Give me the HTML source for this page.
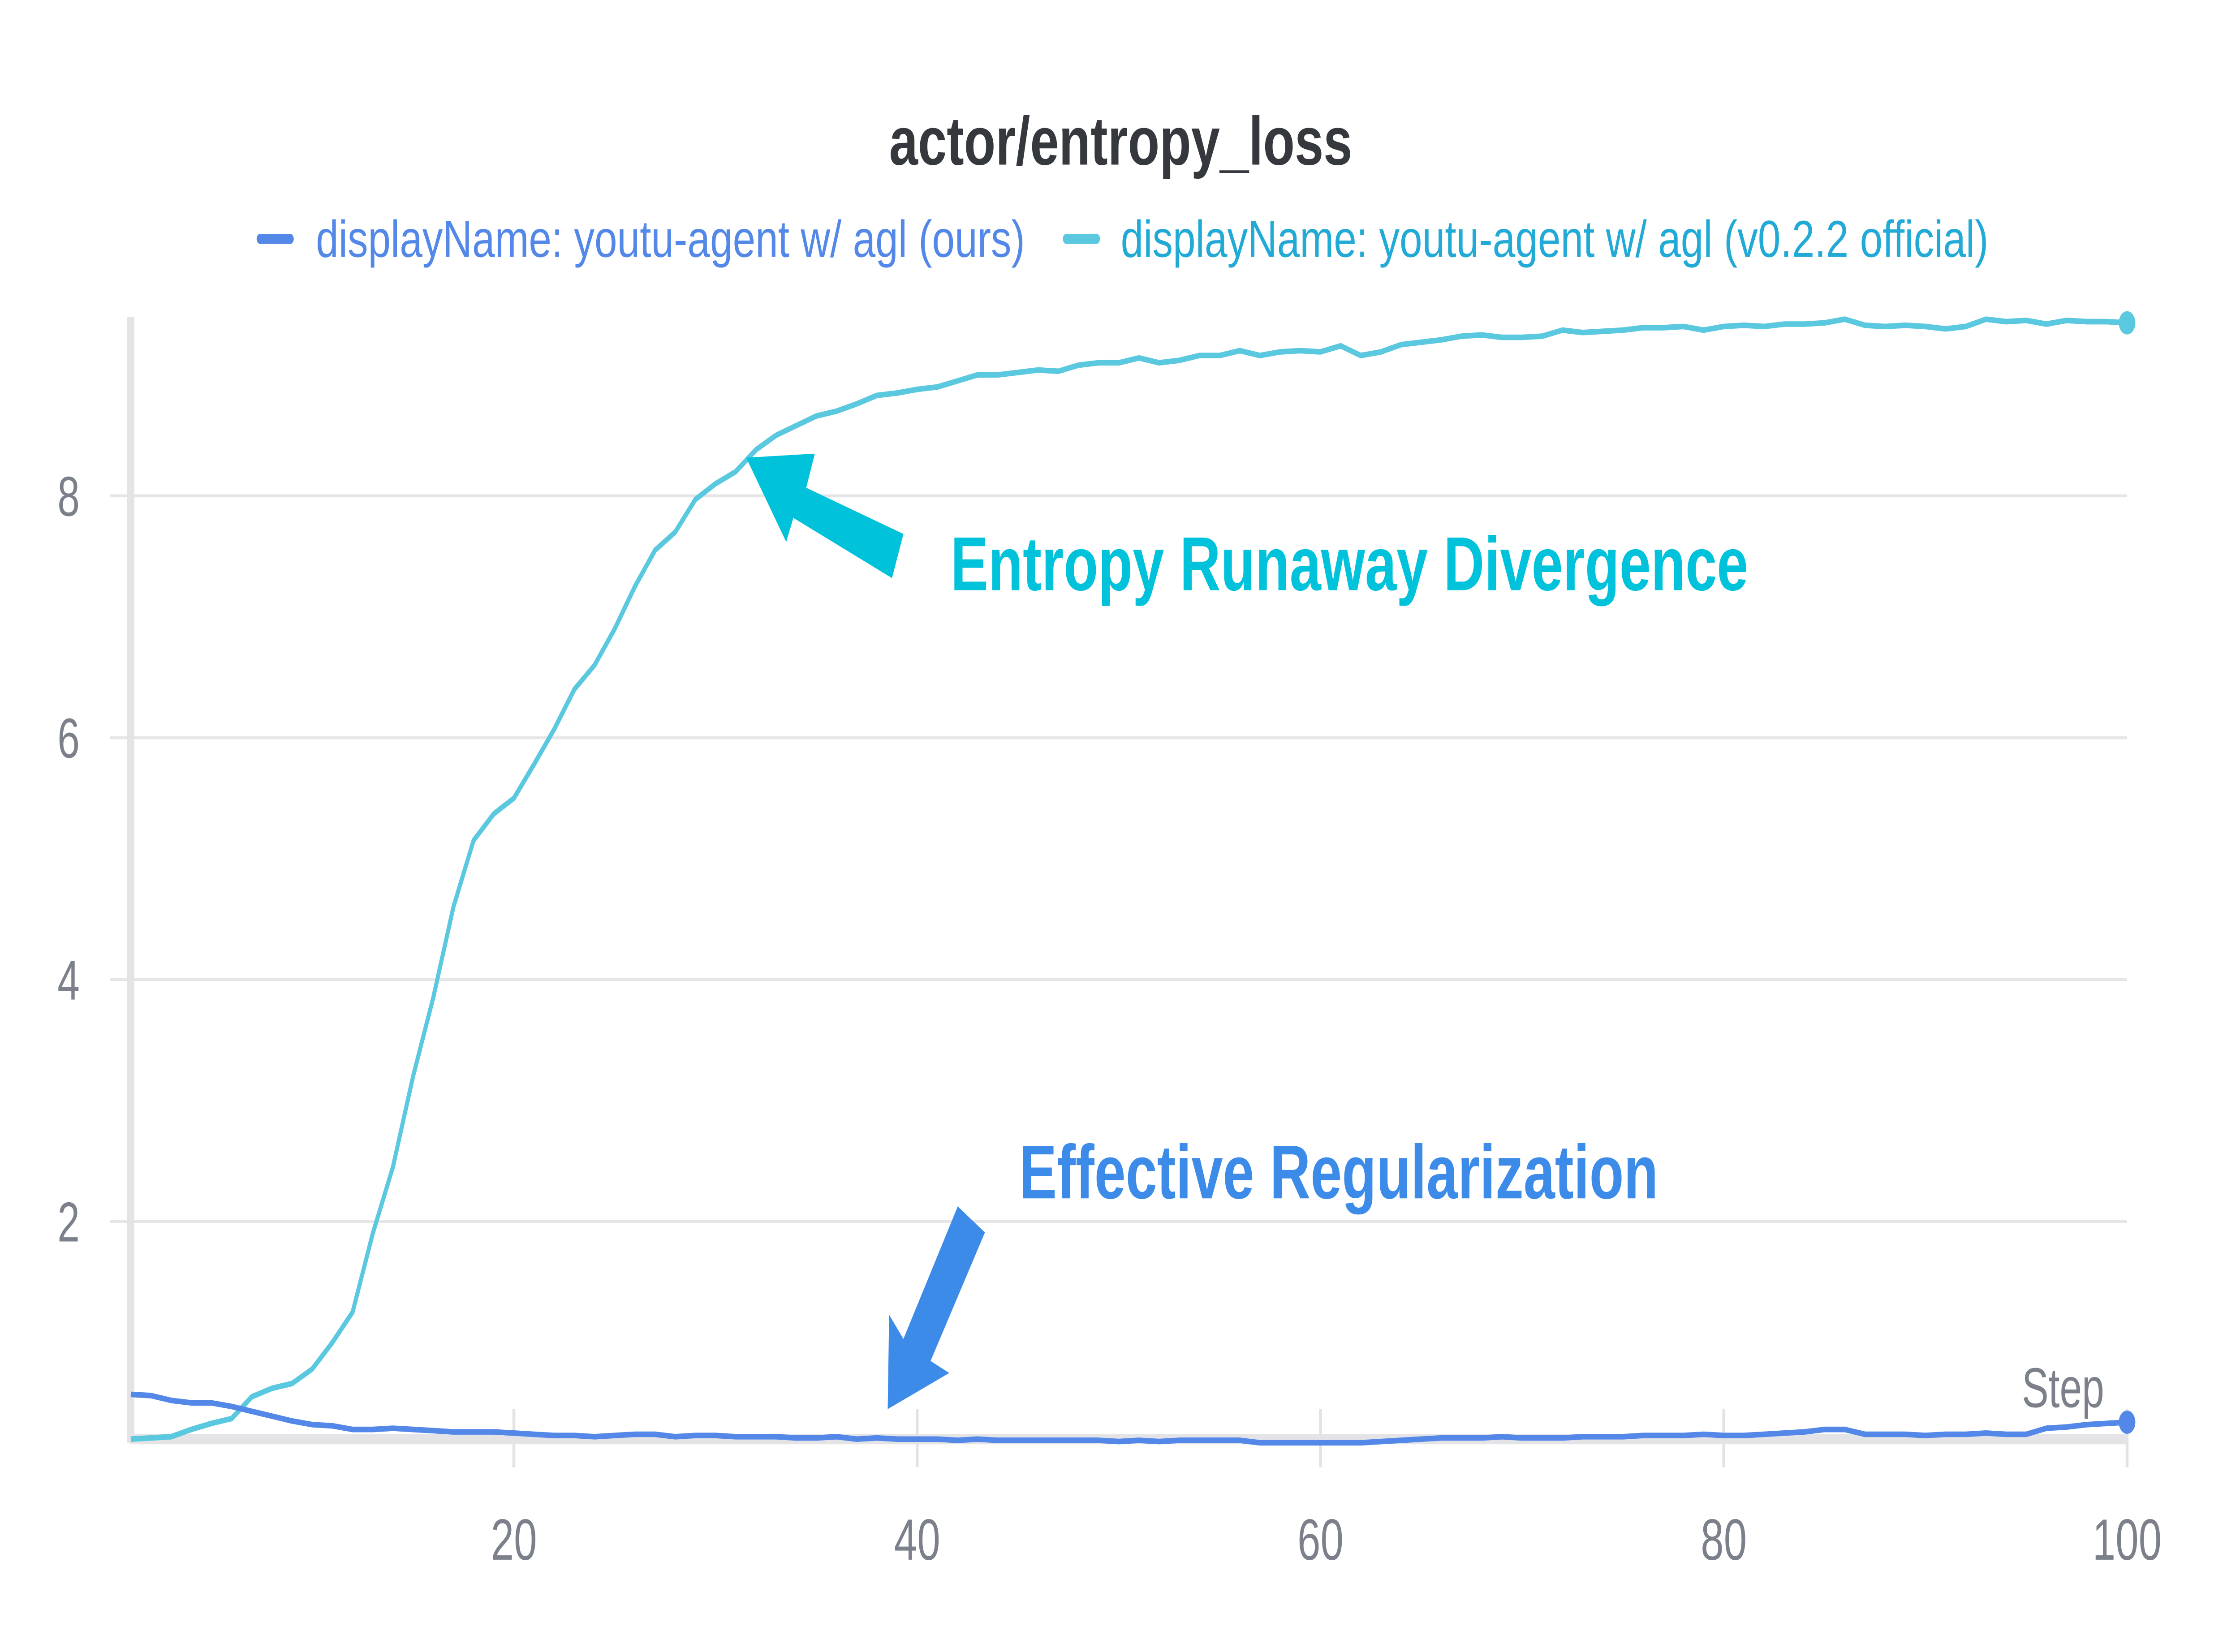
<!DOCTYPE html>
<html><head><meta charset="utf-8"><style>
html,body{margin:0;padding:0;background:#fff;width:100%;height:100%;overflow:hidden;}
svg{display:block;width:100vw;height:100vh;}
text{font-family:"Liberation Sans",sans-serif;}
</style></head><body>
<svg id="chart" viewBox="0 0 1567 823" preserveAspectRatio="none" xmlns="http://www.w3.org/2000/svg">
<rect width="1567" height="823" fill="#fff"/>
<text x="622" y="82" font-size="34" font-weight="bold" fill="#35383c" textLength="324" lengthAdjust="spacingAndGlyphs">actor/entropy_loss</text>
<g>
  <g>
    <line x1="182" y1="119" x2="203" y2="119" stroke="#5388e8" stroke-width="5" stroke-linecap="round"/>
    <text x="221" y="128" font-size="26" fill="#5388e8" textLength="496" lengthAdjust="spacingAndGlyphs">displayName: youtu-agent w/ agl (ours)</text>
  </g>
  <g>
    <line x1="746" y1="119" x2="767" y2="119" stroke="#5ac8de" stroke-width="5" stroke-linecap="round"/>
    <text x="784" y="128" font-size="26" fill="#22aad6" textLength="607" lengthAdjust="spacingAndGlyphs">displayName: youtu-agent w/ agl (v0.2.2 official)</text>
  </g>
</g>
<g id="grid"></g>
<g id="axes"></g>
<g id="series"></g>
<text x="1472" y="701" font-size="28" fill="#7b808a" text-anchor="end">Step</text>
<text x="665" y="294" font-size="38" font-weight="bold" fill="#00c2da" textLength="558" lengthAdjust="spacingAndGlyphs">Entropy Runaway Divergence</text>
<text x="713" y="597" font-size="38" font-weight="bold" fill="#3d8be8" textLength="447" lengthAdjust="spacingAndGlyphs">Effective Regularization</text>
<polygon fill="#00c2da" points="522,228 570,226 564,243 632,266 624,288 555,258 550,270"/>
<polygon fill="#3d8be8" points="621,702 622,655 632,667 670,601 689,614 651,678 664,684"/>
<script>
const steps = [];
for (let i = 1; i <= 100; i++) steps.push(i);
const officialValues = [0.2,0.21,0.22,0.28,0.33,0.37,0.55,0.62,0.66,0.78,1.0,1.25,1.9,2.45,3.2,3.85,4.6,5.15,5.37,5.5,
5.78,6.07,6.4,6.6,6.9,7.25,7.55,7.7,7.97,8.1,8.2,8.38,8.5,8.58,8.66,8.7,8.76,8.83,8.85,8.88,
8.9,8.95,9.0,9.0,9.02,9.04,9.03,9.08,9.1,9.1,9.14,9.1,9.12,9.16,9.16,9.2,9.16,9.19,9.2,9.19,
9.24,9.16,9.19,9.25,9.27,9.29,9.32,9.33,9.31,9.31,9.32,9.37,9.35,9.36,9.37,9.39,9.39,9.4,9.37,9.4,
9.41,9.4,9.42,9.42,9.43,9.46,9.41,9.4,9.41,9.4,9.38,9.4,9.46,9.44,9.45,9.42,9.45,9.44,9.44,9.43];
const oursValues = [0.57,0.56,0.52,0.5,0.5,0.47,0.43,0.39,0.35,0.32,0.31,0.28,0.28,0.29,0.28,0.27,0.26,0.26,0.26,0.25,
0.24,0.23,0.23,0.22,0.23,0.24,0.24,0.22,0.23,0.23,0.22,0.22,0.22,0.21,0.21,0.22,0.2,0.21,0.2,0.2,
0.2,0.19,0.2,0.19,0.19,0.19,0.19,0.19,0.19,0.18,0.19,0.18,0.19,0.19,0.19,0.19,0.17,0.17,0.17,0.17,
0.17,0.17,0.18,0.19,0.2,0.21,0.21,0.21,0.22,0.21,0.21,0.21,0.22,0.22,0.22,0.23,0.23,0.23,0.24,0.23,
0.23,0.24,0.25,0.26,0.28,0.28,0.24,0.24,0.24,0.23,0.24,0.24,0.25,0.24,0.24,0.29,0.3,0.32,0.33,0.34];
const yTicks = [2,4,6,8];
const yTickLabels = ["2","4","6","8"];
const xTicks = [20,40,60,80,100];
const xTickLabels = ["20","40","60","80","100"];

const NS = "http://www.w3.org/2000/svg";
function xs(s){ return 359.5 + (s - 20) * (1488 - 359.5) / 80; }
function ys(v){ return 729 - v * 60.25; }
function mk(tag, attrs, parent){
  const e = document.createElementNS(NS, tag);
  for (const k in attrs) e.setAttribute(k, attrs[k]);
  parent.appendChild(e); return e;
}
const grid = document.getElementById('grid');
const axes = document.getElementById('axes');
const series = document.getElementById('series');

yTicks.forEach((t, i) => {
  const g = mk('line', {x1:77, x2:1488, y1:ys(t), y2:ys(t), stroke:'#e6e6e8', 'stroke-width':1.5}, grid);
  
  
  const lb = mk('text', {x:48, y:ys(t)+10, 'font-size':28, fill:'#7b808a', 'text-anchor':'middle'}, axes);
  lb.textContent = yTickLabels[i];
  
  
});
xTicks.forEach((t, i) => {
  const tk = mk('line', {x1:xs(t), x2:xs(t), y1:702, y2:731, stroke:'#e3e3e6', 'stroke-width':2}, axes);
  
  
  const lb = mk('text', {x:xs(t), y:777, 'font-size':29, fill:'#7b808a', 'text-anchor':'middle'}, axes);
  lb.textContent = xTickLabels[i];
  
  
});

function drawLine(vals, color, name){
  const d = vals.map((v, i) => (i ? 'L' : 'M') + xs(steps[i]).toFixed(2) + ',' + ys(v).toFixed(2)).join(' ');
  const p = mk('path', {d:d, fill:'none', stroke:color, 'stroke-width':2.8, 'stroke-linejoin':'round'}, series);
  
  
  const last = vals.length - 1;
  const c = mk('circle', {cx:xs(steps[last]), cy:ys(vals[last]), r:5.8, fill:color}, series);
  
  
}
drawLine(officialValues, '#5ac8de', 'line-official');
drawLine(oursValues, '#5388e8', 'line-ours');

const xa = mk('line', {x1:91, x2:1488, y1:717, y2:717, stroke:'#e4e4e7', 'stroke-width':5}, axes);


const ya = mk('line', {x1:91.5, x2:91.5, y1:158, y2:719, stroke:'#e4e4e7', 'stroke-width':5}, axes);


</script>
</svg>
</body></html>
